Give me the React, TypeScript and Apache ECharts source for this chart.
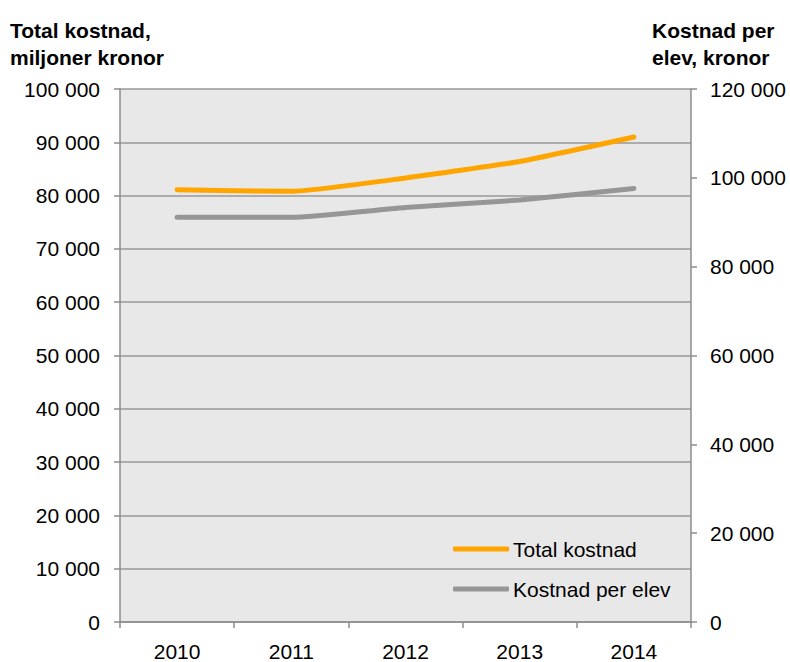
import React, { useEffect, useRef } from "react";
import * as echarts from "echarts";

const years = ["2010", "2011", "2012", "2013", "2014"];
const totalKostnad = [81100, 80800, 83300, 86400, 91000];
const kostnadPerElev = [91100, 91100, 93300, 95000, 97600];
const seriesNames = ["Total kostnad", "Kostnad per elev"];
const leftTitle = ["Total kostnad,", "miljoner kronor"];
const rightTitle = ["Kostnad per", "elev, kronor"];

const fmt = (v: number) => {
  const s = String(Math.round(v));
  return s.replace(/\B(?=(\d{3})+(?!\d))/g, " ");
};

const FONT = "'Liberation Sans', Arial, sans-serif";

export default function App() {
  const ref = useRef<HTMLDivElement>(null);
  useEffect(() => {
    if (!ref.current) return;
    const chart = echarts.init(ref.current, undefined, { renderer: "svg" });
    const axisLine = { show: true, lineStyle: { color: "#8c8c8c", width: 1.5 } };
    const axisTick = { show: true, length: 6, lineStyle: { color: "#8c8c8c", width: 1.5 } };
    chart.setOption({
      animation: false,
      backgroundColor: "#ffffff",
      textStyle: { fontFamily: FONT },
      grid: {
        left: 120,
        right: 99,
        top: 89,
        bottom: 33,
        show: true,
        backgroundColor: "#e8e8e8",
        borderWidth: 0,
      },
      graphic: [
        {
          type: "text",
          left: 10,
          top: 17,
          style: {
            text: leftTitle.join("\n"),
            font: `bold 21px ${FONT}`,
            lineHeight: 27,
            fill: "#000",
          },
        },
        {
          type: "text",
          left: 652,
          top: 17,
          style: {
            text: rightTitle.join("\n"),
            font: `bold 21px ${FONT}`,
            lineHeight: 27,
            fill: "#000",
          },
        },
      ],
      legend: {
        orient: "vertical",
        left: 453,
        top: 538,
        padding: 0,
        icon: "roundRect",
        itemWidth: 56,
        itemHeight: 5,
        itemGap: 18,
        data: seriesNames,
        textStyle: { fontSize: 21, color: "#000", fontFamily: FONT, lineHeight: 22, padding: [0, 0, 0, -1] },
      },
      xAxis: {
        type: "category",
        data: years,
        boundaryGap: true,
        axisLine,
        axisTick: { ...axisTick, alignWithLabel: false },
        axisLabel: { fontSize: 21, color: "#000", margin: 19, fontFamily: FONT },
        splitLine: { show: false },
      },
      yAxis: [
        {
          type: "value",
          min: 0,
          max: 100000,
          interval: 10000,
          position: "left",
          axisLine,
          axisTick,
          axisLabel: { fontSize: 21, color: "#000", margin: 20, formatter: fmt, fontFamily: FONT },
          splitLine: { show: true, lineStyle: { color: "#999999", width: 1.5 } },
        },
        {
          type: "value",
          min: 0,
          max: 120000,
          interval: 20000,
          position: "right",
          axisLine,
          axisTick,
          axisLabel: { fontSize: 21, color: "#000", margin: 19, formatter: fmt, fontFamily: FONT },
          splitLine: { show: false },
        },
      ],
      series: [
        {
          name: seriesNames[0],
          type: "line",
          yAxisIndex: 0,
          data: totalKostnad,
          symbol: "none",
          smooth: 0.15,
          color: "#ffa500",
          lineStyle: { color: "#ffa500", width: 5, cap: "round", join: "round" },
        },
        {
          name: seriesNames[1],
          type: "line",
          yAxisIndex: 1,
          data: kostnadPerElev,
          symbol: "none",
          smooth: 0.15,
          color: "#969696",
          lineStyle: { color: "#969696", width: 5, cap: "round", join: "round" },
        },
      ],
    });
    return () => chart.dispose();
  }, []);
  return <div ref={ref} style={{ width: 790, height: 662, position: "absolute", left: 0, top: 0 }} />;
}
